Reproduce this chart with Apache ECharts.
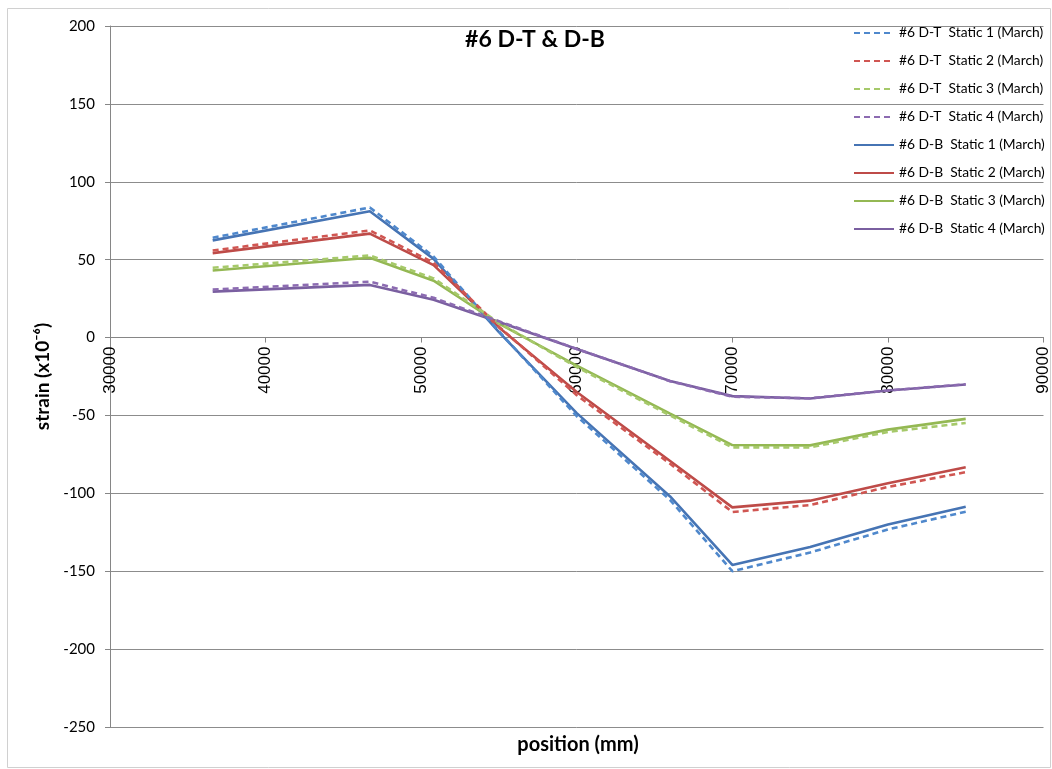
<!DOCTYPE html>
<html>
<head>
<meta charset="utf-8">
<script src="https://cdn.jsdelivr.net/npm/echarts@6/dist/echarts.min.js"></script>
<style>
html,body{margin:0;padding:0;background:#fff;}
#chart{width:1052px;height:769px;}
</style>
</head>
<body>
<div id="chart"></div>
<script>
const positions = [36600, 46700, 50800, 55000, 60000, 66000, 70000, 75000, 80000, 85000];
const seriesNames = [
  '#6 D-T  Static 1 (March)', '#6 D-T  Static 2 (March)', '#6 D-T  Static 3 (March)', '#6 D-T  Static 4 (March)',
  '#6 D-B  Static 1 (March)', '#6 D-B  Static 2 (March)', '#6 D-B  Static 3 (March)', '#6 D-B  Static 4 (March)'
];
const dt1 = [64.1, 83.5, 52, 4, -50.5, -104.3, -150, -138, -123.2, -111.8];
const dt2 = [55.9, 68.8, 48, 7, -37, -81, -112, -107.5, -95.9, -86.4];
const dt3 = [44.8, 52.7, 38, 9.5, -19, -50, -70.5, -70.5, -60.6, -54.8];
const dt4 = [30.8, 35.9, 25.5, 10.5, -7.3, -28, -38, -39, -34, -30];
const db1 = [62.4, 81.1, 50.5, 3.5, -48.5, -102, -146, -134.4, -120, -108.6];
const db2 = [54.2, 66.7, 46.5, 6.5, -35, -79.2, -109, -104.7, -93.5, -83.2];
const db3 = [43, 51.2, 36.5, 9, -18, -48.8, -69, -69.2, -59.1, -52.2];
const db4 = [29.5, 33.8, 24.3, 10, -7.3, -27.9, -37.6, -39.1, -34, -30.1];
const allValues = [dt1, dt2, dt3, dt4, db1, db2, db3, db4];

const xMin = 30000, xMax = 90000, xStep = 10000;
const yMin = -250, yMax = 200, yStep = 50;

const dashColors = ['#4F88CC', '#D05652', '#A6C96A', '#8C6BB1'];
const solidColors = ['#4674B4', '#BE4B48', '#94B853', '#7A5FA0'];

const font = 'Lato, "Open Sans", "Liberation Sans", sans-serif';
const gridTop = 26, gridBottom = 42, chartH = 769;
const plotH = chartH - gridTop - gridBottom;
const zeroOffset = -plotH * (0 - yMin) / (yMax - yMin);

const series = allValues.map((vals, i) => {
  const dashed = i < 4;
  const color = dashed ? dashColors[i] : solidColors[i - 4];
  return {
    name: seriesNames[i],
    type: 'line',
    symbol: 'none',
    showSymbol: false,
    data: positions.map((p, k) => [p, vals[k]]),
    lineStyle: { color: color, width: 2.6, type: dashed ? [6, 4] : 'solid' },
    itemStyle: { color: color },
    z: dashed ? 3 : 2,
    animation: false
  };
});

const chart = echarts.init(document.getElementById('chart'), null, { renderer: 'canvas' });
chart.setOption({
  animation: false,
  backgroundColor: '#fff',
  title: [
    { text: '#6 D-T & D-B', left: 535, top: 28, textAlign: 'center', padding: 0,
      textStyle: { fontFamily: font, fontSize: 23, fontWeight: 'bold', color: '#000' } },
    { text: 'position (mm)', left: 578, top: 735, textAlign: 'center', padding: 0,
      textStyle: { fontFamily: font, fontSize: 20, fontWeight: 'bold', color: '#000' } }
  ],
  graphic: [
    { type: 'rect', shape: { x: 7.5, y: 8.5, width: 1043, height: 759 },
      style: { fill: 'none', stroke: '#d0d0d0', lineWidth: 1 }, silent: true, z: -1 }
  ],
  legend: {
    orient: 'vertical',
    left: 848,
    top: 21,
    itemWidth: 40,
    itemHeight: 12,
    itemGap: 14,
    itemStyle: { opacity: 0 },
    textStyle: { fontFamily: font, fontSize: 13.8, color: '#000' },
    data: seriesNames
  },
  grid: { left: 110, right: 7, top: gridTop, bottom: gridBottom, containLabel: false },
  xAxis: {
    type: 'value',
    min: xMin, max: xMax, interval: xStep,
    position: 'bottom',
    offset: zeroOffset,
    axisLine: { onZero: false, lineStyle: { color: '#868686', width: 1 } },
    axisTick: { show: true, length: 5, lineStyle: { color: '#868686' } },
    axisLabel: { rotate: 90, fontFamily: '"Liberation Sans", Arial, sans-serif', fontSize: 17, color: '#000', margin: 9,
      formatter: v => String(v) },
    splitLine: { show: false }
  },
  yAxis: {
    type: 'value',
    min: yMin, max: yMax, interval: yStep,
    name: 'strain (x10⁻⁶)',
    nameLocation: 'middle',
    nameGap: 58,
    nameTextStyle: { fontFamily: font, fontSize: 19, fontWeight: 'bold', color: '#000' },
    axisLine: { show: true, onZero: false, lineStyle: { color: '#868686', width: 1 } },
    axisTick: { show: true, length: 5, lineStyle: { color: '#868686' } },
    axisLabel: { fontFamily: font, fontSize: 15, color: '#000', margin: 15, formatter: v => String(v) },
    splitLine: { show: true, lineStyle: { color: '#8c8c8c', width: 1 } }
  },
  series: series
});
</script>
</body>
</html>
